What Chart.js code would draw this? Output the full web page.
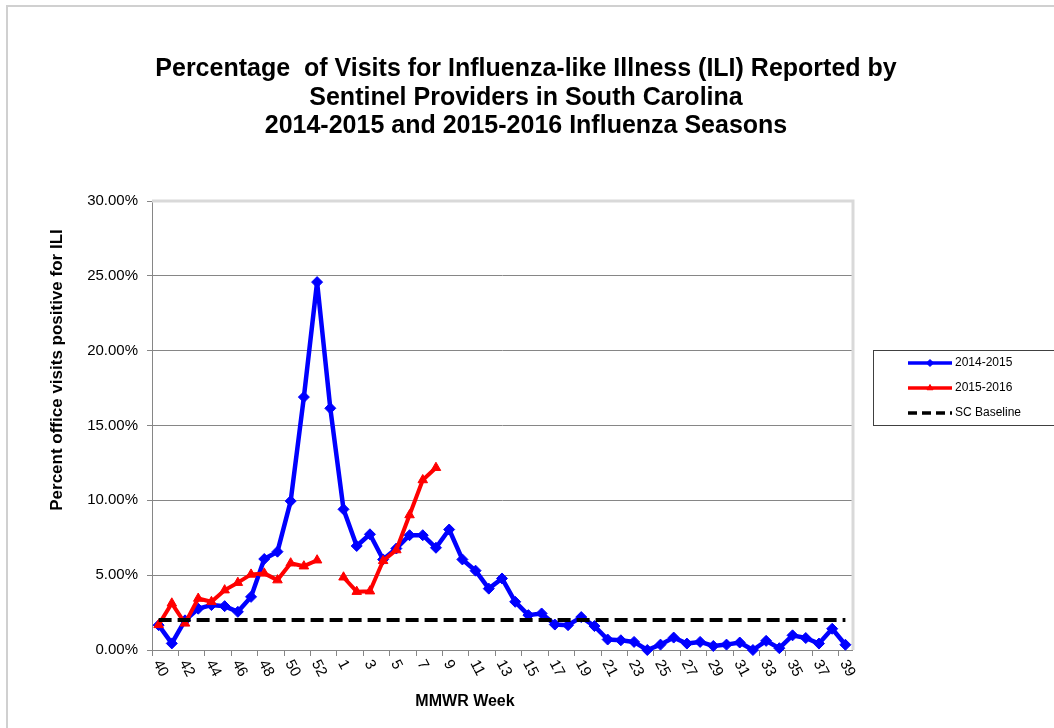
<!DOCTYPE html>
<html>
<head>
<meta charset="utf-8">
<title>ILI South Carolina</title>
<script src="https://cdn.jsdelivr.net/npm/chart.js@4.4.1/dist/chart.umd.min.js"></script>
<style>
    html, body { margin: 0; padding: 0; background: #fff; }
    #wrap { width: 1054px; height: 728px; }
</style>
</head>
<body>
<div id="wrap"><canvas id="iliChart" width="1054" height="728"></canvas></div>
<script>
// MMWR weeks (2014 had a week 53)
const weeks = ['40', '41', '42', '43', '44', '45', '46', '47', '48', '49', '50', '51', '52', '53',
    '1', '2', '3', '4', '5', '6', '7', '8', '9', '10', '11', '12', '13', '14', '15', '16', '17', '18', '19',
    '20', '21', '22', '23', '24', '25', '26', '27', '28', '29', '30', '31', '32', '33', '34', '35', '36',
    '37', '38', '39'];

// labels shown under the axis (every other week)
const xTickLabels = ['40', '42', '44', '46', '48', '50', '52', '1', '3', '5', '7', '9', '11', '13', '15',
    '17', '19', '21', '23', '25', '27', '29', '31', '33', '35', '37', '39'];

// percent of visits for ILI
const season1415 = [1.66, 0.44, 1.98, 2.76, 3.0, 2.93, 2.55, 3.55, 6.08, 6.57, 9.95, 16.9, 24.58, 16.15,
    9.4, 6.95, 7.73, 6.05, 6.78, 7.67, 7.67, 6.83, 8.05, 6.05, 5.3, 4.1, 4.78, 3.22, 2.33, 2.44, 1.7,
    1.66, 2.2, 1.6, 0.7, 0.65, 0.54, 0.0, 0.36, 0.83, 0.43, 0.54, 0.27, 0.36, 0.5, 0.0, 0.61, 0.12,
    0.98, 0.8, 0.43, 1.42, 0.35];

const season1516 = [1.68, 3.12, 1.78, 3.44, 3.22, 4.0, 4.5, 5.05, 5.12, 4.67, 5.8, 5.6, 6.0, null,
    4.86, 3.9, 3.93, 5.96, 6.68, 9.02, 11.36, 12.18];

const scBaseline = [2.0, 2.0, 2.0, 2.0, 2.0, 2.0, 2.0, 2.0, 2.0, 2.0, 2.0, 2.0, 2.0, 2.0, 2.0, 2.0,
    2.0, 2.0, 2.0, 2.0, 2.0, 2.0, 2.0, 2.0, 2.0, 2.0, 2.0, 2.0, 2.0, 2.0, 2.0, 2.0, 2.0, 2.0, 2.0,
    2.0, 2.0, 2.0, 2.0, 2.0, 2.0, 2.0, 2.0, 2.0, 2.0, 2.0, 2.0, 2.0, 2.0, 2.0, 2.0, 2.0, 2.0];

const titleLines = [
    'Percentage  of Visits for Influenza-like Illness (ILI) Reported by',
    'Sentinel Providers in South Carolina',
    '2014-2015 and 2015-2016 Influenza Seasons'
];

const FONT = '"Liberation Sans", Arial, sans-serif';

// extra drawing: frame, title, axis titles, rotated week labels, legend box
const decorPlugin = {
    id: 'decor',
    beforeDraw(chart) {
        const ctx = chart.ctx;
        ctx.save();
        ctx.fillStyle = '#fff';
        ctx.fillRect(0, 0, chart.width, chart.height);
        ctx.strokeStyle = '#d0d0d0';
        ctx.lineWidth = 2;
        ctx.strokeRect(7, 6, chart.width + 10, chart.height + 10);
        ctx.restore();
    },
    beforeDatasetsDraw(chart) {
        const ctx = chart.ctx;
        const a = chart.chartArea;
        ctx.save();
        ctx.strokeStyle = '#d9d9d9';
        ctx.lineWidth = 3;
        ctx.beginPath();
        ctx.moveTo(a.left, a.top);
        ctx.lineTo(a.right + 1, a.top);
        ctx.lineTo(a.right + 1, a.bottom);
        ctx.stroke();
        ctx.restore();
    },
    afterDraw(chart) {
        const ctx = chart.ctx;
        const xs = chart.scales.x;
        ctx.save();
        ctx.fillStyle = '#000';

        // title
        ctx.font = 'bold 25px ' + FONT;
        ctx.textAlign = 'center';
        ctx.textBaseline = 'alphabetic';
        [76, 105, 133].forEach((y, i) => ctx.fillText(titleLines[i], 526, y));

        // axis titles
        ctx.font = 'bold 16px ' + FONT;
        ctx.fillText('MMWR Week', 465, 706);
        ctx.save();
        ctx.translate(62, 370);
        ctx.rotate(-Math.PI / 2);
        ctx.font = 'bold 17px ' + FONT;
        ctx.fillText('Percent office visits positive for ILI', 0, 0);
        ctx.restore();

        // week labels, turned clockwise
        ctx.font = '15px ' + FONT;
        ctx.textAlign = 'left';
        ctx.textBaseline = 'middle';
        xTickLabels.forEach(lbl => {
            const px = xs.getPixelForValue(weeks.indexOf(lbl));
            ctx.save();
            ctx.translate(px - 2, 661);
            ctx.rotate(62 * Math.PI / 180);
            ctx.fillText(lbl, 0, 0);
            ctx.restore();
        });

        // legend
        ctx.strokeStyle = '#404040';
        ctx.lineWidth = 1;
        ctx.strokeRect(873.5, 350.5, 200, 75);
        ctx.font = '12px ' + FONT;
        chart.data.datasets.forEach((ds, i) => {
            const y = 363 + 25 * i;
            ctx.save();
            ctx.strokeStyle = ds.borderColor;
            ctx.lineWidth = 3.5;
            ctx.setLineDash(ds.borderDash ? [9, 5] : []);
            ctx.beginPath();
            ctx.moveTo(908, y);
            ctx.lineTo(952, y);
            ctx.stroke();
            ctx.restore();
            if (ds.pointRadius) {
                ctx.save();
                ctx.fillStyle = ds.borderColor;
                ctx.strokeStyle = ds.borderColor;
                ctx.lineWidth = 1;
                Chart.helpers.drawPoint(ctx, { pointStyle: ds.pointStyle, radius: 3.5, rotation: 0, borderWidth: 1 }, 930, y);
                ctx.restore();
            }
            ctx.fillStyle = '#000';
            ctx.fillText(ds.label, 955, y);
        });
        ctx.restore();
    }
};

const ctx = document.getElementById('iliChart').getContext('2d');
new Chart(ctx, {
    type: 'line',
    data: {
        labels: weeks,
        datasets: [
            {
                label: '2014-2015',
                data: season1415,
                borderColor: '#0000ff',
                backgroundColor: '#0000ff',
                borderWidth: 4.5,
                borderJoinStyle: 'round',
                pointStyle: 'rectRot',
                pointRadius: 5.5,
                pointBorderWidth: 1,
                clip: false,
                order: 3
            },
            {
                label: '2015-2016',
                data: season1516,
                borderColor: '#ff0000',
                backgroundColor: '#ff0000',
                borderWidth: 4,
                borderJoinStyle: 'round',
                pointStyle: 'triangle',
                pointRadius: 5.5,
                pointBorderWidth: 1,
                spanGaps: false,
                clip: false,
                order: 2
            },
            {
                label: 'SC Baseline',
                data: scBaseline,
                borderColor: '#000000',
                borderWidth: 4,
                borderDash: [13, 6],
                pointRadius: 0,
                clip: false,
                order: 1
            }
        ]
    },
    options: {
        responsive: false,
        animation: false,
        layout: { padding: { top: 201, right: 202, left: 0, bottom: 0 } },
        plugins: {
            legend: { display: false },
            title: { display: false },
            tooltip: { enabled: false }
        },
        scales: {
            x: {
                offset: true,
                grid: {
                    offset: true,
                    drawOnChartArea: false,
                    tickLength: 6,
                    color: c => (c.index % 2 === 0 && c.index < weeks.length) ? '#868686' : 'rgba(0,0,0,0)'
                },
                border: { color: '#868686' },
                ticks: { display: false, autoSkip: false },
                afterFit: s => { s.height = 78; }
            },
            y: {
                min: 0,
                max: 30,
                ticks: {
                    stepSize: 5,
                    callback: v => v.toFixed(2) + '%',
                    font: { family: FONT, size: 15 },
                    color: '#000',
                    padding: 9
                },
                grid: { color: '#868686', tickLength: 5 },
                border: { color: '#868686' },
                afterFit: s => { s.width = 152; }
            }
        }
    },
    plugins: [decorPlugin]
});
</script>
</body>
</html>
